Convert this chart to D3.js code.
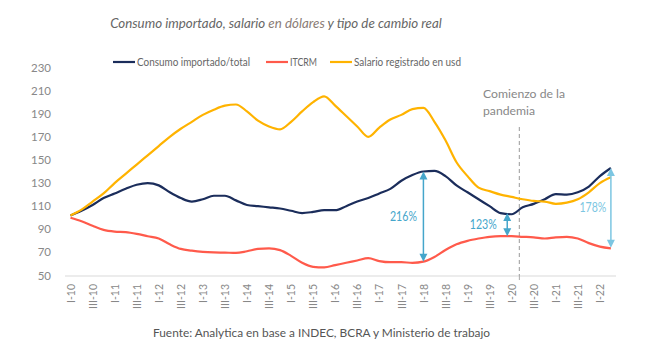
<!DOCTYPE html>
<html><head><meta charset="utf-8">
<script src="https://cdn.jsdelivr.net/npm/d3@7"></script>
<style>body{margin:0;background:#fff}svg{display:block}</style>
</head><body>
<svg id="c" width="648" height="357"></svg>
<script>
const quarters = ["I-10","II-10","III-10","IV-10","I-11","II-11","III-11","IV-11","I-12","II-12","III-12","IV-12",
"I-13","II-13","III-13","IV-13","I-14","II-14","III-14","IV-14","I-15","II-15","III-15","IV-15",
"I-16","II-16","III-16","IV-16","I-17","II-17","III-17","IV-17","I-18","II-18","III-18","IV-18",
"I-19","II-19","III-19","IV-19","I-20","II-20","III-20","IV-20","I-21","II-21","III-21","IV-21","I-22","II-22"];
const tickLabels = ["I-10","III-10","I-11","III-11","I-12","III-12","I-13","III-13","I-14","III-14","I-15","III-15","I-16","III-16","I-17","III-17","I-18","III-18","I-19","III-19","I-20","III-20","I-21","III-21","I-22"];
const yTicks = [50,70,90,110,130,150,170,190,210,230];
const consumo = [102,106,111,117,121,125,128.5,130,128,122,117,114,116,119,119,115,111,110,109,108,106,104,105,106.5,
106.5,110,114,117,121,125,132,137,140,140.5,136,128,122,116,110,104,103,109,112,116,120.5,120,122,127,136,143];
const itcrm = [100,97,93,89.5,88,87.5,86,84,82,77,73,71.5,70.5,70,69.8,69.5,71,73,73.5,72,67,61,57.5,57,
59,61,63,65,62.5,61.5,61.5,61,62,66,72,77,80,82,83.5,84,84,83.5,83,82,83,83.5,82,78,75,73.5];
const salario = [102,107,114,121,130,138,146,154,162,170,177,183,189,193.5,197,198,192,184,179,176.5,183,192,200,205,
197,188,179,170,178,185,189,194,195,183,167,148,136,126,123,120,118,116,114.5,114,112,113,116,122,130,135];
const seriesNames = ["Consumo importado/total","ITCRM","Salario registrado en usd"];
const seriesColors = ["#1b2d5b","#ff5a4b","#ffb300"];
// annotations: position (quarter index), from, to, label
const annIndex = [32, 39.6, 49];
const annFrom = [140, 104, 143];
const annTo = [62, 84, 74];
const annLabels = ["216%","123%","178%"];
const pandemicIndex = 40.7;

const svg = d3.select("#c");
const font = "Lato, sans-serif";
function fit(sel, target){
  sel.attr("textLength", target).attr("lengthAdjust","spacingAndGlyphs");
  return sel;
}
function fitSize(sel, target){
  const w = sel.node().getComputedTextLength();
  const fs = parseFloat(sel.attr("font-size"));
  sel.attr("font-size", fs*target/w);
  return sel;
}
const x = d3.scalePoint().domain(quarters).range([70.5, 610.9]);
const step = x.step();
const xi = i => x(quarters[0]) + i * step;
const y = d3.scaleLinear().domain([50,230]).range([275.5,67.5]);

// title
const title = svg.append("text").attr("x", 276).attr("y", 28).attr("text-anchor","middle")
  .attr("font-family", font).attr("font-style","italic").attr("font-size", 14.5).attr("fill","#666");
title.append("tspan").text("Consumo importado, salario ");
title.append("tspan").attr("fill","#8a7c76").text("en dólares");
title.append("tspan").text(" y tipo de cambio real");
fitSize(title, 332);

// legend
const legX = [113, 266, 330];
const legW = [113, 27, 107];
seriesNames.forEach((n,k)=>{
  svg.append("line").attr("x1",legX[k]).attr("x2",legX[k]+22).attr("y1",62).attr("y2",62)
    .attr("stroke",seriesColors[k]).attr("stroke-width",2.2);
  const t = svg.append("text").attr("x",legX[k]+24).attr("y",66).attr("font-family",font).attr("font-size",11)
    .attr("fill","#666").text(n);
  fit(t, legW[k]);
});

// y axis labels
svg.append("g").selectAll("text").data(yTicks).join("text")
  .attr("x", 51).attr("y", d=>y(d)).attr("dy","0.35em").attr("text-anchor","end")
  .attr("font-family",font).attr("font-size",11.5).attr("fill","#888").text(d=>d);

// x axis
const xAxis = d3.axisBottom(x).tickValues(tickLabels).tickSize(0).tickPadding(0);
const gx = svg.append("g").attr("transform","translate(0,276)").call(xAxis);
gx.select(".domain").remove();
gx.selectAll("text").attr("transform","rotate(-90)").attr("text-anchor","end")
  .attr("x",-8).attr("y",0).attr("dy","0.35em")
  .attr("font-family",font).attr("font-size",10.5).attr("fill","#888");
svg.append("line").attr("x1",65).attr("x2",616).attr("y1",276).attr("y2",276)
  .attr("stroke","#d9d9d9").attr("stroke-width",1);

// pandemic line
const px = xi(pandemicIndex);
svg.append("line").attr("x1",px).attr("x2",px).attr("y1",127).attr("y2",276)
  .attr("stroke","#aaa").attr("stroke-width",1.2).attr("stroke-dasharray","4,3");
svg.append("line").attr("x1",px).attr("x2",px).attr("y1",276).attr("y2",280).attr("stroke","#aaa");
const pt = svg.append("g").attr("font-family",font).attr("font-size",12).attr("fill","#888");
fit(pt.append("text").attr("x",483).attr("y",98).text("Comienzo de la"), 82);
fit(pt.append("text").attr("x",483).attr("y",114.5).text("pandemia"), 52);

// lines
const line = d3.line().x((d,i)=>x(quarters[i])).y(d=>y(d)).curve(d3.curveMonotoneX);
[consumo, itcrm, salario].forEach((s,k)=>{
  svg.append("path").attr("d", line(s)).attr("fill","none")
    .attr("stroke", seriesColors[k]).attr("stroke-width",2.2);
});

// annotation arrows
const annColors = ["#45a6cb","#45a6cb","#7cc6e2"];
const labelDx = [-20, -24, -18];
annIndex.forEach((ai,k)=>{
  const ax = xi(ai), y1 = y(annFrom[k]), y2 = y(annTo[k]);
  const c = annColors[k];
  svg.append("line").attr("x1",ax).attr("x2",ax).attr("y1",y1+6).attr("y2",y2-6)
    .attr("stroke",c).attr("stroke-width",1.5);
  svg.append("path").attr("d",`M${ax},${y1} L${ax-4},${y1+8} L${ax+4},${y1+8} Z`).attr("fill",c);
  svg.append("path").attr("d",`M${ax},${y2} L${ax-4},${y2-8} L${ax+4},${y2-8} Z`).attr("fill",c);
  const t = svg.append("text").attr("x",ax+labelDx[k]-13.5).attr("y",(y1+y2)/2).attr("dy","0.35em")
    .attr("font-family",font).attr("font-size",13).attr("fill",c)
    .text(annLabels[k]);
  fit(t, 27);
});

// source
const src = svg.append("text").attr("x",153).attr("y",337)
  .attr("font-family",font).attr("font-size",11.5).attr("fill","#555")
  .text("Fuente: Analytica en base a INDEC, BCRA y Ministerio de trabajo");
fit(src, 337);
</script>
</body></html>
